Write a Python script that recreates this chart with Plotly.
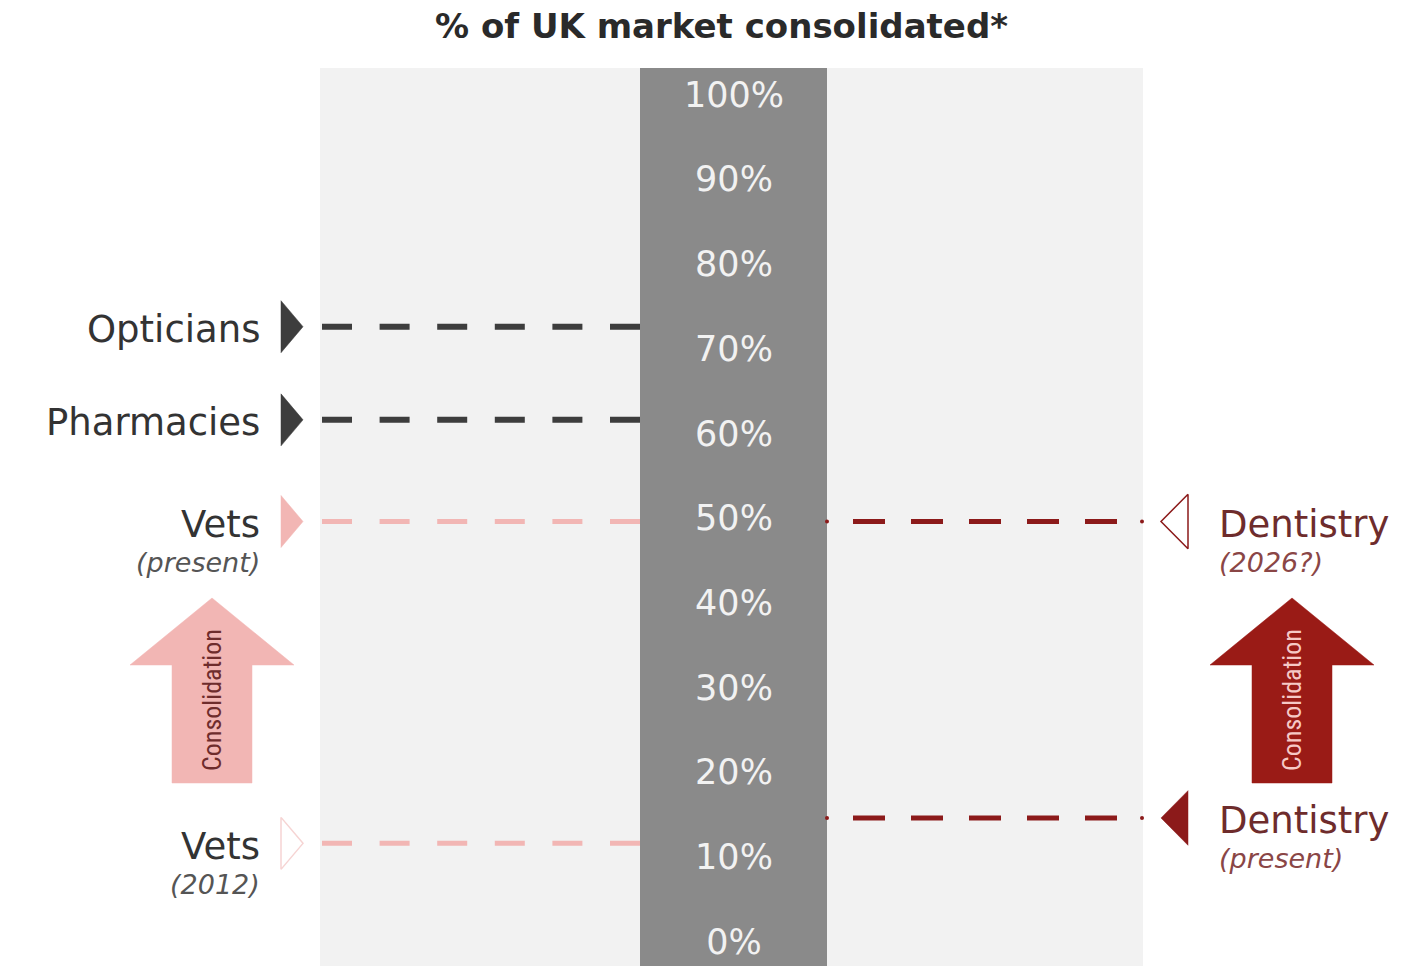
import plotly.graph_objects as go

# ---------------- data ----------------
left_names = ["Opticians", "Pharmacies", "Vets", "Vets"]
left_sub = ["", "", "(present)", "(2012)"]
left_values = [73, 62, 50, 12]
left_style = ["dark", "dark", "pink", "pink_open"]

right_names = ["Dentistry", "Dentistry"]
right_sub = ["(2026?)", "(present)"]
right_values = [50, 15]
right_style = ["red_open", "red"]

tick_values = [0, 10, 20, 30, 40, 50, 60, 70, 80, 90, 100]
tick_labels = ["0%", "10%", "20%", "30%", "40%", "50%", "60%", "70%", "80%", "90%", "100%"]

title_text = "% of UK market consolidated*"
arrow_text = "Consolidation"

# ---------------- layout helpers ----------------
W, H = 1401, 966
PX_PER_UNIT = 8.47
Y0_PIX = 945  # pixel row of 0%
YMAX = Y0_PIX / PX_PER_UNIT
YMIN = YMAX - H / PX_PER_UNIT
FONT = "DejaVu Sans"


def vy(pix):
    """convert a pixel row to axis units (for decorative geometry)"""
    return (Y0_PIX - pix) / PX_PER_UNIT


TRI_H = 26 / PX_PER_UNIT

colors = {
    "dark": "#3d3d3d",
    "pink": "#f2b6b4",
    "pink_open": "#f2b6b4",
    "red": "#8c1a1a",
    "red_open": "#8c1a1a",
}

fig = go.Figure()

# background panel and central column
fig.add_shape(type="rect", x0=320, x1=1143, y0=YMIN, y1=vy(68),
              fillcolor="#f2f2f2", line_width=0, layer="below")
fig.add_shape(type="rect", x0=640, x1=827, y0=YMIN, y1=vy(68),
              fillcolor="#8a8a8a", line_width=0, layer="below")

# tick labels on the column
fig.add_trace(go.Scatter(
    x=[734] * len(tick_values), y=tick_values, mode="text",
    text=tick_labels, textposition="middle center",
    textfont=dict(family=FONT, size=35, color="#f2f2f2"),
    hoverinfo="skip", showlegend=False))

# left series
for name, sub, v, st in zip(left_names, left_sub, left_values, left_style):
    c = colors[st]
    width = 6 if st == "dark" else 5
    fig.add_trace(go.Scatter(x=[322, 640], y=[v, v], mode="lines",
                             line=dict(color=c, width=width, dash="30px,27.6px"),
                             hoverinfo="skip", showlegend=False))
    open_ = st.endswith("open")
    fig.add_trace(go.Scatter(
        x=[281, 303, 281, 281], y=[v + TRI_H, v, v - TRI_H, v + TRI_H],
        mode="lines", fill="toself",
        fillcolor="#ffffff" if open_ else c,
        line=dict(color="#f6d4d3" if open_ else c, width=1.5 if open_ else 0.5),
        hoverinfo="skip", showlegend=False))
    fig.add_annotation(x=262, y=v, text=name, showarrow=False, xanchor="right",
                       yanchor="middle", yshift=-3,
                       font=dict(family=FONT, size=37, color="#333333"))
    if sub:
        fig.add_annotation(x=262, y=v, text="<i>" + sub + "</i>", showarrow=False,
                           xanchor="right", yanchor="middle", yshift=-41,
                           font=dict(family=FONT, size=27, color="#555555"))

# right series
for name, sub, v, st in zip(right_names, right_sub, right_values, right_style):
    c = colors[st]
    fig.add_trace(go.Scatter(x=[853, 1120], y=[v, v], mode="lines",
                             line=dict(color=c, width=5, dash="32px,26px"),
                             hoverinfo="skip", showlegend=False))
    fig.add_trace(go.Scatter(x=[827, 1142], y=[v, v], mode="markers",
                             marker=dict(color=c, size=4),
                             hoverinfo="skip", showlegend=False))
    open_ = st.endswith("open")
    fig.add_trace(go.Scatter(
        x=[1188, 1161, 1188, 1188], y=[v + TRI_H * 1.05, v, v - TRI_H * 1.05, v + TRI_H * 1.05],
        mode="lines", fill="toself",
        fillcolor="#ffffff" if open_ else c,
        line=dict(color=c, width=1.5 if open_ else 0.5),
        hoverinfo="skip", showlegend=False))
    fig.add_annotation(x=1217, y=v, text=name, showarrow=False, xanchor="left",
                       yanchor="middle", yshift=-3,
                       font=dict(family=FONT, size=37, color="#6e2c2c"))
    fig.add_annotation(x=1217, y=v, text="<i>" + sub + "</i>", showarrow=False,
                       xanchor="left", yanchor="middle", yshift=-41,
                       font=dict(family=FONT, size=27, color="#8a4646"))


# consolidation arrows
def arrow(cx, fill, text_color):
    sx0, sx1 = cx - 40, cx + 40
    hx0, hx1 = cx - 82, cx + 82
    tip, base, bottom = vy(598), vy(665), vy(783)
    xs = [sx0, sx0, hx0, cx, hx1, sx1, sx1, sx0]
    ys = [bottom, base, base, tip, base, base, bottom, bottom]
    fig.add_trace(go.Scatter(x=xs, y=ys, mode="lines", fill="toself",
                             fillcolor=fill, line=dict(color=fill, width=0.5),
                             hoverinfo="skip", showlegend=False))
    fig.add_annotation(x=cx, y=vy(700), text=arrow_text, textangle=-90,
                       showarrow=False,
                       font=dict(family="Liberation Sans Narrow, Roboto Condensed, Roboto",
                                 size=26, color=text_color))


arrow(212, "#f2b6b4", "#6e2c2c")
arrow(1292, "#9a1b16", "#f6c9c6")

fig.add_annotation(x=721, y=vy(26), text=title_text, showarrow=False,
                   xanchor="center", yanchor="middle",
                   font=dict(family=FONT, size=34, color="#2a2a2a", weight="bold"))

fig.update_layout(
    width=W, height=H, margin=dict(l=0, r=0, t=0, b=0),
    paper_bgcolor="white", plot_bgcolor="white",
    xaxis=dict(range=[0, W], visible=False, fixedrange=True),
    yaxis=dict(range=[YMIN, YMAX], visible=False, fixedrange=True),
    showlegend=False,
)

fig.write_html("out.html")
